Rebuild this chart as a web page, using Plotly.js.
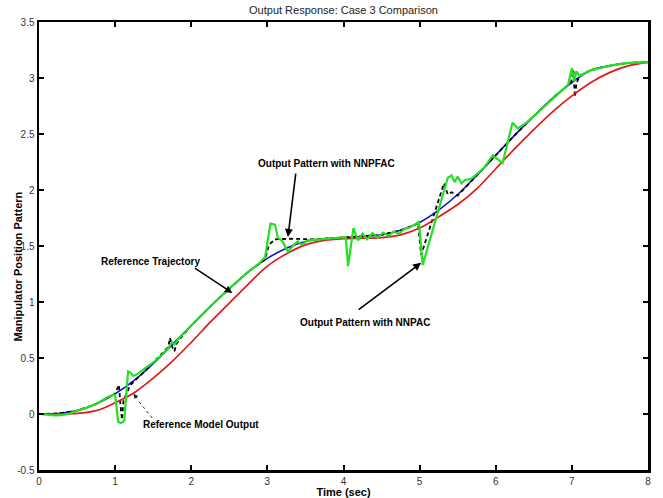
<!DOCTYPE html>
<html>
<head>
<meta charset="utf-8">
<script src="https://cdn.plot.ly/plotly-3.0.1.min.js"></script>
<style>html,body{margin:0;padding:0;background:#fff;}#chart{width:663px;height:498px;}</style>
</head>
<body>
<div id="chart"></div>
<script>
// Reference trajectory (blue)
var timeRef = [0,0.25,0.5,0.75,1.0,1.25,1.5,1.75,2.0,2.25,2.5,2.75,3.0,3.25,3.5,3.75,4.0,4.25,4.5,4.75,5.0,5.25,5.5,5.75,6.0,6.25,6.5,6.75,7.0,7.25,7.5,7.75,8.0];
var refTraj = [0,0.005,0.03,0.09,0.18,0.3,0.45,0.62,0.79,0.96,1.12,1.27,1.39,1.48,1.54,1.565,1.575,1.585,1.6,1.64,1.71,1.82,1.96,2.13,2.31,2.49,2.66,2.82,2.96,3.07,3.11,3.135,3.14];

// Reference model output (red)
var timeModel = [0,0.25,0.5,0.75,1.0,1.25,1.5,1.75,2.0,2.25,2.5,2.75,3.0,3.25,3.5,3.75,4.0,4.25,4.5,4.75,5.0,5.25,5.5,5.75,6.0,6.25,6.5,6.75,7.0,7.25,7.5,7.75,8.0];
var refModel = [0,0,0.005,0.03,0.1,0.19,0.32,0.47,0.64,0.82,0.99,1.16,1.32,1.43,1.51,1.55,1.565,1.57,1.575,1.6,1.66,1.76,1.87,2.01,2.19,2.37,2.54,2.7,2.84,2.96,3.05,3.11,3.14];

// Output pattern with NNPAC (green)
var timeNNPAC = [0,0.1,0.2,0.3,0.4,0.5,0.6,0.75,0.9,0.97,1.0,1.02,1.04,1.08,1.12,1.14,1.17,1.2,1.24,1.3,1.4,1.5,1.6,1.7,1.75,1.78,1.82,1.9,2.0,2.25,2.5,2.75,2.9,2.97,3.04,3.1,3.14,3.19,3.27,3.36,3.4,3.45,3.53,3.6,3.75,4.0,4.03,4.06,4.13,4.19,4.25,4.31,4.38,4.45,4.52,4.59,4.66,4.73,4.8,4.87,4.96,4.99,5.04,5.37,5.42,5.46,5.5,5.55,5.6,5.68,5.75,5.85,5.9,5.96,6.09,6.22,6.29,6.4,6.5,6.75,6.95,7.0,7.03,7.06,7.1,7.25,7.5,7.75,8.0];
var nnpac = [0,-0.005,-0.012,-0.01,0.005,0.03,0.05,0.09,0.15,0.17,0.17,0.05,-0.07,-0.08,-0.06,0.12,0.38,0.37,0.34,0.36,0.41,0.46,0.52,0.59,0.64,0.62,0.66,0.72,0.79,0.96,1.12,1.27,1.35,1.4,1.7,1.69,1.57,1.55,1.45,1.52,1.54,1.51,1.55,1.555,1.565,1.575,1.578,1.32,1.66,1.55,1.61,1.56,1.615,1.575,1.62,1.59,1.63,1.61,1.655,1.665,1.7,1.72,1.33,2.11,2.13,2.07,2.12,2.06,2.09,2.1,2.14,2.2,2.25,2.31,2.24,2.6,2.55,2.6,2.66,2.82,2.94,3.09,2.97,3.06,3.02,3.07,3.11,3.135,3.14];

// Output pattern with NNPFAC (black dashed)
var timeNNPFAC = [0,0.25,0.5,0.75,1.0,1.03,1.05,1.07,1.09,1.11,1.2,1.4,1.6,1.7,1.72,1.75,1.78,1.8,1.85,2.0,2.25,2.5,2.75,2.97,3.02,3.1,3.3,3.45,3.6,3.75,4.0,4.25,4.5,4.75,4.98,5.02,5.32,5.37,5.42,5.5,5.75,6.0,6.25,6.5,6.75,6.99,7.02,7.04,7.06,7.1,7.25,7.5,7.75,8.0];
var nnpfac = [0,0.005,0.03,0.09,0.18,0.22,0.26,0.08,-0.05,0.12,0.26,0.39,0.53,0.6,0.68,0.6,0.56,0.62,0.67,0.79,0.96,1.12,1.27,1.38,1.51,1.56,1.565,1.56,1.56,1.565,1.575,1.585,1.6,1.64,1.7,1.42,2.06,1.96,1.98,1.95,2.13,2.31,2.49,2.66,2.82,2.96,3.07,2.83,2.95,3.02,3.07,3.11,3.135,3.14];

var xTicks = [0,1,2,3,4,5,6,7,8];
var yTicks = [-0.5,0,0.5,1,1.5,2,2.5,3,3.5];

var traces = [
  {x: timeRef, y: refTraj, type: 'scatter', mode: 'lines', name: 'Reference Trajectory',
   line: {color: '#1010d0', width: 1.6, shape: 'spline'}},
  {x: timeNNPFAC, y: nnpfac, type: 'scatter', mode: 'lines', name: 'NNPFAC',
   line: {color: '#000000', width: 1.8, dash: '4px,3px'}},
  {x: timeModel, y: refModel, type: 'scatter', mode: 'lines', name: 'Reference Model Output',
   line: {color: '#e01a1a', width: 1.7, shape: 'spline'}},
  {x: timeNNPAC, y: nnpac, type: 'scatter', mode: 'lines', name: 'NNPAC',
   line: {color: '#22e022', width: 2.2}}
];

var lblFont = {family: 'Liberation Sans, Arial, sans-serif', size: 10, color: '#000'};
var annotations = [
  {xref: 'x', yref: 'y', x: 3.78, y: 2.24, text: '<b>Output Pattern with NNPFAC</b>', showarrow: false, font: lblFont},
  {xref: 'x', yref: 'y', x: 3.27, y: 1.58, text: '', showarrow: true, arrowhead: 2, arrowsize: 1, arrowwidth: 1.6, arrowcolor: '#000', ax: 8, ay: -65, standoff: 0},
  {xref: 'x', yref: 'y', x: 1.46, y: 1.366, text: '<b>Reference Trajectory</b>', showarrow: false, font: lblFont},
  {xref: 'x', yref: 'y', x: 2.54, y: 1.08, text: '', showarrow: true, arrowhead: 2, arrowsize: 1, arrowwidth: 1.5, arrowcolor: '#000', ax: -39, ay: -26, standoff: 0},
  {xref: 'x', yref: 'y', x: 2.13, y: -0.098, text: '<b>Reference Model Output</b>', showarrow: false, font: lblFont},
  {xref: 'x', yref: 'y', x: 1.24, y: 0.18, text: '', showarrow: true, arrowhead: 2, arrowsize: 1.2, arrowwidth: 0.8, arrowcolor: '#222', ax: 5, ay: 6, standoff: 0},
  {xref: 'x', yref: 'y', x: 4.28, y: 0.82, text: '<b>Output Pattern with NNPAC</b>', showarrow: false, font: lblFont},
  {xref: 'x', yref: 'y', x: 5.02, y: 1.35, text: '', showarrow: true, arrowhead: 2, arrowsize: 1, arrowwidth: 1.6, arrowcolor: '#000', ax: -64, ay: 48, standoff: 0},
  {xref: 'paper', yref: 'paper', x: -0.034, y: 0.455, xanchor: 'center', yanchor: 'middle', text: '<b>Manipulator Position Pattern</b>', showarrow: false, textangle: -90,
   font: {family: 'Liberation Sans, Arial, sans-serif', size: 11, color: '#000'}}
];

// dotted leader line for the "Reference Model Output" arrow
var shapes = [
  {type: 'line', xref: 'x', yref: 'y', x0: 1.487, y0: -0.036, x1: 1.29, y1: 0.13,
   line: {color: '#333', width: 1, dash: 'dot'}}
];

var layout = {
  width: 663, height: 498,
  margin: {l: 38.7, r: 14.5, t: 22, b: 28},
  paper_bgcolor: '#fff', plot_bgcolor: '#fff',
  showlegend: false,
  font: {family: 'Liberation Sans, Arial, sans-serif', size: 10, color: '#333'},
  title: {text: 'Output Response: Case 3 Comparison', x: 0.5, xref: 'paper', y: 1 - 10/498, yref: 'container', yanchor: 'middle',
          font: {family: 'Liberation Sans, Arial, sans-serif', size: 11, color: '#222'}},
  xaxis: {range: [0, 8], tickvals: xTicks, ticktext: xTicks.map(String), ticks: 'inside', ticklen: 5, tickwidth: 2, tickcolor: '#000',
          showline: true, linewidth: 2.5, linecolor: '#000', mirror: 'ticks', showgrid: false, zeroline: false,
          tickfont: {size: 10, color: '#333'},
          title: {text: '<b>Time (sec)</b>', font: {size: 11, color: '#000'}, standoff: 2}},
  yaxis: {range: [-0.5, 3.5], tickvals: yTicks, ticktext: yTicks.map(String), ticks: 'inside', ticklen: 5, tickwidth: 2, tickcolor: '#000',
          showline: true, linewidth: 2.5, linecolor: '#000', mirror: 'ticks', showgrid: false, zeroline: false,
          tickfont: {size: 10, color: '#333'}},
  shapes: shapes,
  annotations: annotations
};

Plotly.newPlot('chart', traces, layout, {displayModeBar: false, staticPlot: true});
</script>
</body>
</html>
